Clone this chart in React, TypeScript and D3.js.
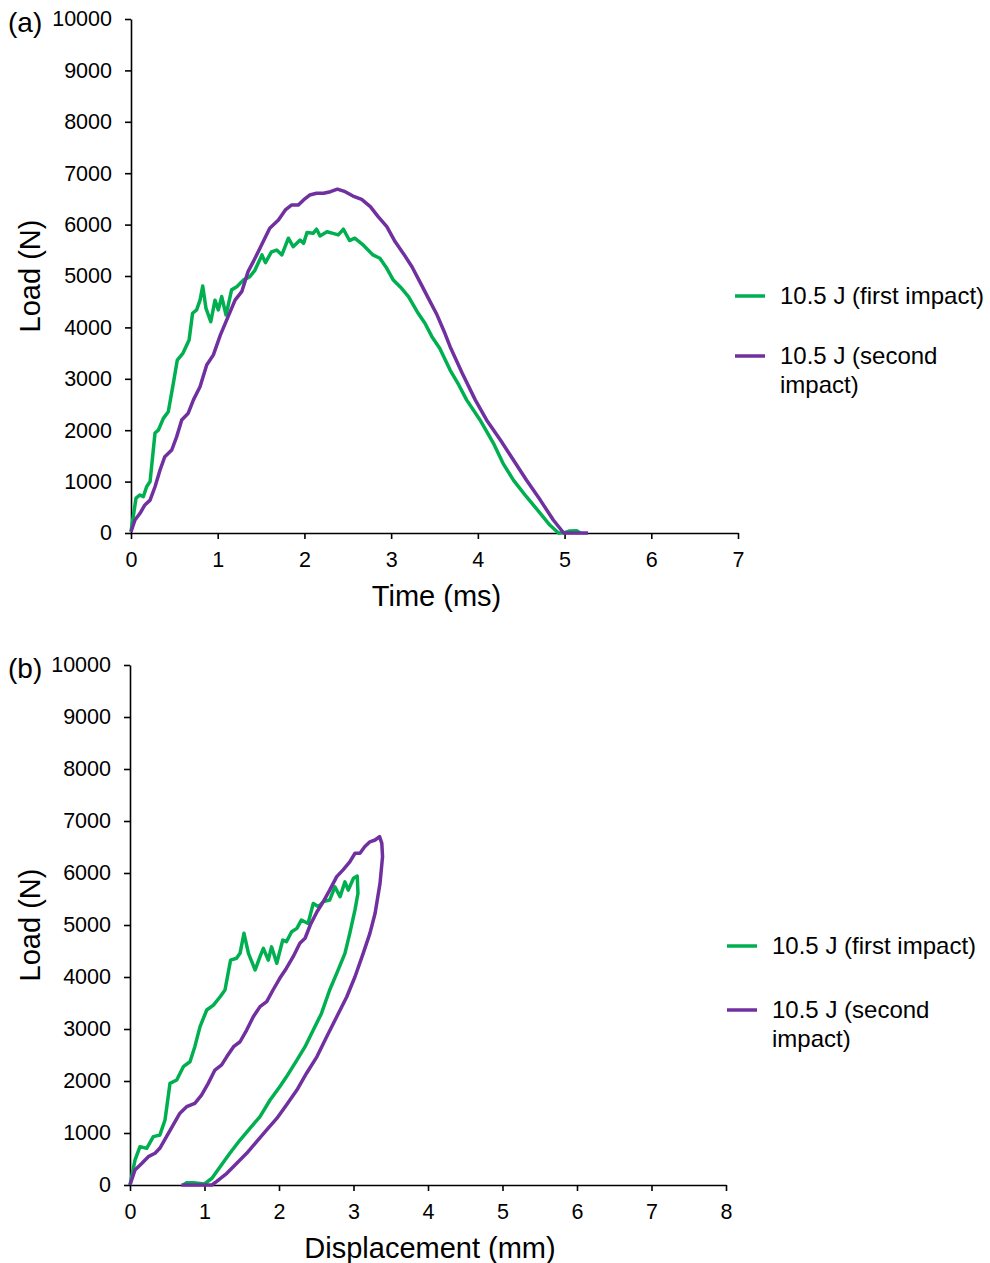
import React, { useEffect, useRef } from "react";
import * as d3 from "d3";

// Series colours (Excel green / purple)
const GREEN = "#00B050";
const PURPLE = "#7030A0";
const FONT = "'Liberation Sans', Arial, sans-serif";

const seriesNames = ["10.5 J (first impact)", "10.5 J (second impact)"];
const loadTicks = [0, 1000, 2000, 3000, 4000, 5000, 6000, 7000, 8000, 9000, 10000];
const timeTicks = [0, 1, 2, 3, 4, 5, 6, 7];
const dispTicks = [0, 1, 2, 3, 4, 5, 6, 7, 8];

// (a) load vs time, [ms, N]
const firstTime: [number, number][] = [
  [0, 25], [0.058, 680], [0.104, 740], [0.142, 706], [0.18, 900], [0.22, 1000], [0.277, 1945],
  [0.315, 2000], [0.373, 2230], [0.43, 2360], [0.488, 2910], [0.534, 3365], [0.6, 3500],
  [0.67, 3755], [0.71, 4275], [0.757, 4340], [0.796, 4530], [0.827, 4805], [0.865, 4370],
  [0.92, 4110], [0.969, 4530], [1.007, 4340], [1.046, 4600], [1.096, 4240], [1.16, 4730],
  [1.22, 4790], [1.295, 4920], [1.37, 4985], [1.43, 5115], [1.51, 5410], [1.55, 5260],
  [1.62, 5470], [1.68, 5505], [1.74, 5410], [1.815, 5735], [1.87, 5570], [1.95, 5700],
  [1.99, 5635], [2.03, 5845], [2.1, 5830], [2.14, 5910], [2.18, 5780], [2.26, 5860],
  [2.33, 5830], [2.39, 5800], [2.45, 5910], [2.52, 5690], [2.58, 5735], [2.68, 5600],
  [2.79, 5410], [2.87, 5345], [2.95, 5150], [3.025, 4920], [3.12, 4760], [3.2, 4600],
  [3.3, 4305], [3.39, 4080], [3.47, 3820], [3.56, 3595], [3.68, 3170], [3.78, 2880],
  [3.87, 2590], [4.025, 2200], [4.18, 1745], [4.29, 1355], [4.41, 1030], [4.56, 706],
  [4.72, 383], [4.83, 155], [4.93, 0], [5.0, 5], [5.06, 40], [5.14, 45], [5.18, 0],
];
const secondTime: [number, number][] = [
  [0, 25], [0.046, 253], [0.104, 383], [0.16, 545], [0.22, 640], [0.277, 900], [0.335, 1225],
  [0.39, 1485], [0.47, 1615], [0.527, 1875], [0.585, 2200], [0.66, 2330], [0.72, 2590],
  [0.796, 2845], [0.873, 3270], [0.95, 3465], [1.03, 3850], [1.12, 4210], [1.2, 4530],
  [1.277, 4695], [1.35, 5085], [1.43, 5345], [1.525, 5670], [1.6, 5930], [1.7, 6090],
  [1.78, 6285], [1.85, 6380], [1.93, 6380], [1.99, 6480], [2.06, 6575], [2.14, 6610],
  [2.22, 6610], [2.3, 6640], [2.38, 6690], [2.47, 6640], [2.56, 6555], [2.66, 6490],
  [2.76, 6350], [2.85, 6155], [2.95, 5960], [3.045, 5670], [3.14, 5440], [3.24, 5180],
  [3.33, 4890], [3.43, 4565], [3.53, 4240], [3.62, 3885], [3.68, 3625], [3.82, 3110],
  [3.97, 2590], [4.1, 2200], [4.26, 1810], [4.41, 1420], [4.56, 1030], [4.72, 640],
  [4.87, 253], [4.99, 0], [5.27, 0],
];

// (b) load vs displacement, [mm, N]
const firstDisp: [number, number][] = [
  [0, 0], [0.067, 480], [0.134, 737], [0.224, 705], [0.313, 930], [0.4, 960], [0.47, 1250],
  [0.537, 1955], [0.627, 2020], [0.716, 2275], [0.805, 2370], [0.87, 2660], [0.94, 3045],
  [1.03, 3365], [1.12, 3460], [1.21, 3620], [1.275, 3750], [1.35, 4325], [1.43, 4360],
  [1.477, 4455], [1.53, 4840], [1.59, 4455], [1.68, 4135], [1.745, 4390], [1.79, 4550],
  [1.856, 4325], [1.9, 4580], [1.97, 4265], [2.05, 4710], [2.1, 4680], [2.17, 4870],
  [2.24, 4935], [2.3, 5095], [2.39, 5030], [2.46, 5415], [2.53, 5350], [2.595, 5450],
  [2.68, 5480], [2.75, 5735], [2.82, 5545], [2.885, 5830], [2.93, 5670], [3.0, 5900],
  [3.05, 5940], [3.06, 5610], [3.02, 5290], [2.95, 4840], [2.885, 4455], [2.775, 4070],
  [2.68, 3750], [2.57, 3300], [2.46, 2980], [2.35, 2660], [2.24, 2400], [2.1, 2080],
  [2.01, 1890], [1.88, 1635], [1.745, 1315], [1.61, 1090], [1.477, 865], [1.34, 610],
  [1.21, 350], [1.1, 130], [1.0, 20], [0.94, 30], [0.85, 45], [0.76, 45], [0.716, 0],
];
const secondDisp: [number, number][] = [
  [0, 0], [0.067, 290], [0.157, 415], [0.246, 545], [0.336, 610], [0.4, 705], [0.49, 930],
  [0.58, 1155], [0.67, 1380], [0.76, 1505], [0.87, 1570], [0.96, 1730], [1.05, 1955],
  [1.14, 2210], [1.23, 2310], [1.3, 2470], [1.39, 2660], [1.477, 2755], [1.566, 2980],
  [1.655, 3235], [1.745, 3430], [1.835, 3525], [1.92, 3750], [2.01, 3975], [2.1, 4170],
  [2.19, 4390], [2.28, 4650], [2.35, 4745], [2.42, 5000], [2.51, 5255], [2.595, 5450],
  [2.68, 5670], [2.775, 5930], [2.86, 6060], [2.95, 6215], [3.02, 6380], [3.087, 6380],
  [3.15, 6505], [3.22, 6600], [3.29, 6635], [3.35, 6700], [3.38, 6570], [3.39, 6315],
  [3.356, 5800], [3.29, 5225], [3.22, 4840], [3.13, 4455], [3.02, 4005], [2.91, 3620],
  [2.775, 3235], [2.64, 2850], [2.51, 2470], [2.37, 2150], [2.24, 1825], [2.1, 1540],
  [1.97, 1280], [1.835, 1060], [1.7, 835], [1.566, 610], [1.43, 415], [1.3, 225],
  [1.16, 65], [1.1, 0], [0.69, 0],
];

type Panel = {
  label: string;
  top: number;
  bottom: number;
  left: number;
  right: number;
  xMax: number;
  xTicks: number[];
  xTitle: string;
  series: [number, number][][];
  legendX: number;
  legendY: number[];
};

const panels: Panel[] = [
  {
    label: "(a)", top: 19, bottom: 533, left: 131, right: 738, xMax: 7, xTicks: timeTicks,
    xTitle: "Time (ms)", series: [firstTime, secondTime], legendX: 735, legendY: [296, 356],
  },
  {
    label: "(b)", top: 665, bottom: 1185, left: 130, right: 726, xMax: 8, xTicks: dispTicks,
    xTitle: "Displacement (mm)", series: [firstDisp, secondDisp], legendX: 727, legendY: [946, 1010],
  },
];

export default function App() {
  const svgRef = useRef<SVGSVGElement>(null);

  useEffect(() => {
    const svg = d3.select(svgRef.current);
    svg.selectAll("*").remove();
    const colors = [GREEN, PURPLE];
    const fmt = d3.format("d");

    panels.forEach((p) => {
      const x = d3.scaleLinear().domain([0, p.xMax]).range([p.left, p.right]);
      const y = d3.scaleLinear().domain([0, 10000]).range([p.bottom, p.top]);
      const g = svg.append("g");

      const xAxis = g.append("g")
        .attr("transform", `translate(0,${p.bottom})`)
        .call(d3.axisBottom(x).tickValues(p.xTicks).tickFormat(fmt).tickSize(6).tickSizeOuter(0).tickPadding(13));
      const yAxis = g.append("g")
        .attr("transform", `translate(${p.left},0)`)
        .call(d3.axisLeft(y).tickValues(loadTicks).tickFormat(fmt).tickSize(6).tickSizeOuter(0).tickPadding(13));
      [xAxis, yAxis].forEach((ax) => {
        ax.selectAll("path, line").attr("stroke", "#000").attr("stroke-width", 1.6);
        ax.selectAll("text")
          .attr("fill", "#000")
          .style("font-family", FONT)
          .style("font-size", "21.5px");
      });

      const line = d3.line<[number, number]>().x((d) => x(d[0])).y((d) => y(d[1]));
      p.series.forEach((s, i) => {
        g.append("path")
          .datum(s)
          .attr("d", line)
          .attr("fill", "none")
          .attr("stroke", colors[i])
          .attr("stroke-width", 3.5)
          .attr("stroke-linejoin", "round");
      });

      g.append("text")
        .attr("x", (p.left + p.right) / 2 + 2)
        .attr("y", p.bottom + 73)
        .attr("text-anchor", "middle")
        .style("font-family", FONT)
        .style("font-size", "29px")
        .text(p.xTitle);
      g.append("text")
        .attr("transform", `translate(40,${(p.top + p.bottom) / 2}) rotate(-90)`)
        .attr("text-anchor", "middle")
        .style("font-family", FONT)
        .style("font-size", "29px")
        .text("Load (N)");
      g.append("text")
        .attr("x", 8)
        .attr("y", p.top + 13)
        .style("font-family", FONT)
        .style("font-size", "28px")
        .text(p.label);

      // legend
      seriesNames.forEach((name, i) => {
        const ly = p.legendY[i];
        g.append("line")
          .attr("x1", p.legendX).attr("x2", p.legendX + 30)
          .attr("y1", ly).attr("y2", ly)
          .attr("stroke", colors[i]).attr("stroke-width", 3.5);
        const t = g.append("text")
          .attr("x", p.legendX + 45)
          .attr("y", ly + 8)
          .style("font-family", FONT)
          .style("font-size", "24px");
        const parts = i === 1 ? ["10.5 J (second", "impact)"] : [name];
        parts.forEach((part, k) => {
          t.append("tspan").attr("x", p.legendX + 45).attr("dy", k === 0 ? 0 : 29).text(part);
        });
      });
    });
  }, []);

  return (
    <svg
      ref={svgRef}
      width={990}
      height={1263}
      style={{ position: "absolute", left: 0, top: 0, background: "#fff" }}
    />
  );
}
